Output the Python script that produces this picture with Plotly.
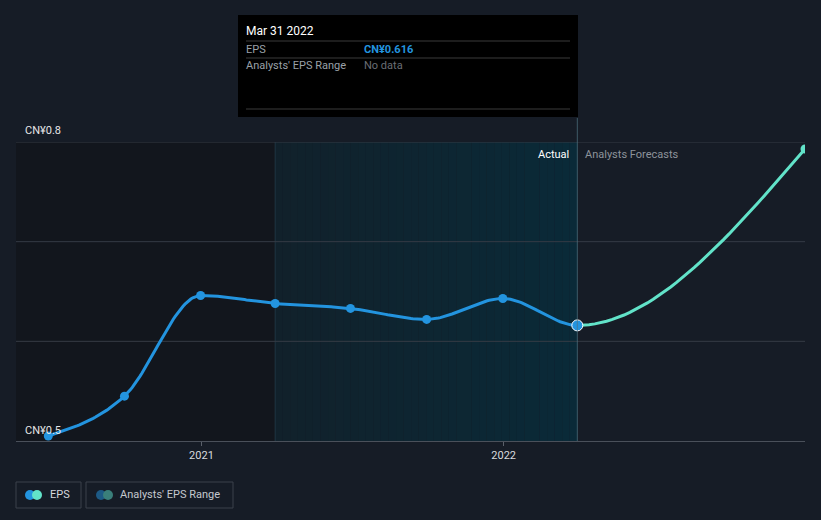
import numpy as np
import pandas as pd
import plotly.graph_objects as go

# ---------------- data ----------------
eps_dates = ["2020-06-30", "2020-09-30", "2020-12-31", "2021-03-31",
             "2021-06-30", "2021-09-30", "2021-12-31", "2022-03-31"]
eps_values = [0.505, 0.545, 0.646, 0.638, 0.633, 0.622, 0.643, 0.616]
forecast_dates = ["2022-03-31", "2022-12-31"]
forecast_values = [0.616, 0.793]
y_tick_labels = ["CN¥0.5", "CN¥0.8"]
x_tick_labels = ["2021", "2022"]
x_tick_dates = ["2021-01-01", "2022-01-01"]

# ---------------- layout constants ----------------
W, H = 821, 520
L, R, T, B = 16, 805, 142, 441
BG = "#161c26"
EPS_C = "#2394df"
FC_C = "#62e3c9"
FONT = "Roboto, Lato, sans-serif"

x_range = [pd.Timestamp("2020-05-22"), pd.Timestamp("2022-12-31")]
y_range = [0.5, 0.8]


def px(x):
    return (x - L) / (R - L)


def py(y):
    return (B - y) / (B - T)


# ---------------- monotone cubic smoothing (d3 curveMonotoneX) ----------------
def monotone_curve(xs, ys, n=40):
    xs = np.asarray(xs, float)
    ys = np.asarray(ys, float)
    h = np.diff(xs)
    s = np.diff(ys) / h
    m = len(xs)
    t = np.zeros(m)
    for i in range(1, m - 1):
        h0, h1 = h[i - 1], h[i]
        s0, s1 = s[i - 1], s[i]
        p = (s0 * h1 + s1 * h0) / (h0 + h1)
        t[i] = (np.sign(s0) + np.sign(s1)) * min(abs(s0), abs(s1), 0.5 * abs(p))
    t[0] = (3 * s[0] - t[1]) / 2 if m > 2 else s[0]
    t[-1] = (3 * s[-1] - t[-2]) / 2 if m > 2 else s[-1]
    segs = []
    for i in range(m - 1):
        u = np.linspace(0, 1, n)
        hh = h[i]
        h00 = 2 * u**3 - 3 * u**2 + 1
        h10 = u**3 - 2 * u**2 + u
        h01 = -2 * u**3 + 3 * u**2
        h11 = u**3 - u**2
        yy = h00 * ys[i] + h10 * hh * t[i] + h01 * ys[i + 1] + h11 * hh * t[i + 1]
        xx = xs[i] + u * hh
        segs.append((xx, yy))
    return segs


all_dates = pd.to_datetime(eps_dates + forecast_dates[1:])
all_vals = eps_values + forecast_values[1:]
origin = pd.Timestamp("2020-01-01")
days = (all_dates - origin).days.values
segs = monotone_curve(days, all_vals)
n_act = len(eps_dates) - 1


def join(seglist):
    xx = np.concatenate([s[0] for s in seglist])
    yy = np.concatenate([s[1] for s in seglist])
    return origin + pd.to_timedelta(xx, unit="D"), yy


ax_x, ax_y = join(segs[:n_act])
fx_x, fx_y = join(segs[n_act:])

fig = go.Figure()

# ---------------- background regions ----------------
shapes = []
hl_start = pd.Timestamp(eps_dates[3])
hl_end = pd.Timestamp(eps_dates[-1])
shapes.append(dict(type="rect", xref="x", yref="paper", x0=x_range[0], x1=hl_start,
                   y0=0, y1=1, fillcolor="#12161d", line_width=0, layer="below"))
c0 = np.array([0x11, 0x21, 0x2b])
c1 = np.array([0x0a, 0x2a, 0x38])
nstrip = 40
span = (hl_end - hl_start)
for i in range(nstrip):
    a = hl_start + span * (i / nstrip)
    b = hl_start + span * ((i + 1) / nstrip)
    c = c0 + (c1 - c0) * (i + 0.5) / nstrip
    col = "rgb(%d,%d,%d)" % tuple(int(round(v)) for v in c)
    shapes.append(dict(type="rect", xref="x", yref="paper", x0=a, x1=b, y0=0, y1=1,
                       fillcolor=col, line_width=0, layer="below"))
shapes.append(dict(type="line", xref="x", yref="paper", x0=hl_start, x1=hl_start, y0=0, y1=1,
                   line=dict(color="rgba(50,85,100,0.45)", width=1), layer="below"))
# hover line
shapes.append(dict(type="line", xref="x", yref="paper", x0=hl_end, x1=hl_end, y0=0, y1=py(118),
                   line=dict(color="rgba(80,115,130,0.7)", width=1)))

# gridlines
for gv in [0.6, 0.7, 0.8]:
    shapes.append(dict(type="line", xref="paper", yref="y", x0=0, x1=1, y0=gv, y1=gv,
                       line=dict(color="#353b45", width=1), layer="below"))

# tooltip box
shapes.append(dict(type="rect", xref="paper", yref="paper", x0=px(238), x1=px(578),
                   y0=py(117), y1=py(15), fillcolor="#000000", line_width=0))
for ly in [41, 58, 109]:
    shapes.append(dict(type="line", xref="paper", yref="paper", x0=px(246), x1=px(570),
                       y0=py(ly), y1=py(ly), line=dict(color="#3a3a3a", width=1)))

# legend boxes
for (x0, x1) in [(16, 81), (86, 233)]:
    shapes.append(dict(type="rect", xref="paper", yref="paper", x0=px(x0), x1=px(x1),
                       y0=py(508), y1=py(482), line=dict(color="#3a404a", width=1),
                       fillcolor="rgba(0,0,0,0)"))
for (cx, col) in [(30, EPS_C), (37, FC_C), (101, "#1d5a85"), (108, "#3a7f7a")]:
    r = 5
    shapes.append(dict(type="circle", xref="paper", yref="paper", x0=px(cx - r), x1=px(cx + r),
                       y0=py(495 + r), y1=py(495 - r), fillcolor=col, line_width=0))

# ---------------- traces ----------------
fig.add_trace(go.Scatter(x=ax_x, y=ax_y, mode="lines", line=dict(color=EPS_C, width=3),
                         hoverinfo="skip", showlegend=False))
fig.add_trace(go.Scatter(x=fx_x, y=fx_y, mode="lines", line=dict(color=FC_C, width=3),
                         hoverinfo="skip", showlegend=False))
fig.add_trace(go.Scatter(x=pd.to_datetime(eps_dates[:-1]), y=eps_values[:-1], mode="markers",
                         marker=dict(color=EPS_C, size=9), showlegend=False, hoverinfo="skip"))
fig.add_trace(go.Scatter(x=pd.to_datetime(forecast_dates[1:]), y=forecast_values[1:], mode="markers",
                         marker=dict(color=FC_C, size=9), showlegend=False, hoverinfo="skip"))
fig.add_trace(go.Scatter(x=pd.to_datetime(eps_dates[-1:]), y=eps_values[-1:], mode="markers",
                         marker=dict(color=EPS_C, size=11, line=dict(color="#ffffff", width=1)),
                         showlegend=False, hoverinfo="skip"))

# ---------------- annotations ----------------
ann = []
PAD = 2


def text(x, y, s, color, size=11, xanchor="left", bold=False):
    xx = x - PAD if xanchor == "left" else x + PAD
    ann.append(dict(xref="paper", yref="paper", x=px(xx), y=py(y), text=("<b>%s</b>" % s) if bold else s,
                    showarrow=False, xanchor=xanchor, yanchor="middle",
                    font=dict(color=color, size=size, family=FONT)))


text(246, 31, "Mar 31 2022", "#ffffff", 12)
text(246, 49, "EPS", "#9aa0a8", 11)
text(364, 49, "CN¥%.3f" % eps_values[-1], EPS_C, 11, bold=True)
text(246, 66, "Analysts' EPS Range", "#9aa0a8", 11)
text(364, 66, "No data", "#6a6e75", 11)

text(569, 154, "Actual", "#ffffff", 11, xanchor="right")
text(585, 154, "Analysts Forecasts", "#8d939b", 11)

text(25, 130, y_tick_labels[1], "#e6e6e6", 11)
text(25, 430, y_tick_labels[0], "#e6e6e6", 11)

text(50, 495, "EPS", "#d5d8dd", 11)
text(120, 495, "Analysts' EPS Range", "#c5c9cf", 11)

fig.update_layout(
    width=W, height=H,
    margin=dict(l=L, r=W - R, t=T, b=H - B),
    paper_bgcolor=BG, plot_bgcolor=BG,
    shapes=shapes, annotations=ann,
    showlegend=False,
    hovermode=False,
    xaxis=dict(range=x_range, showgrid=False, zeroline=False,
               tickvals=pd.to_datetime(x_tick_dates), ticktext=x_tick_labels,
               ticks="outside", ticklen=4, tickcolor="#5a606a",
               showline=True, linecolor="#4a505a", linewidth=1,
               tickfont=dict(color="#d8dade", size=11, family=FONT), fixedrange=True),
    yaxis=dict(range=y_range, showgrid=False, zeroline=False, showticklabels=False,
               showline=False, fixedrange=True),
    font=dict(family=FONT),
)

fig.write_html("out.html", config={"displayModeBar": False})
